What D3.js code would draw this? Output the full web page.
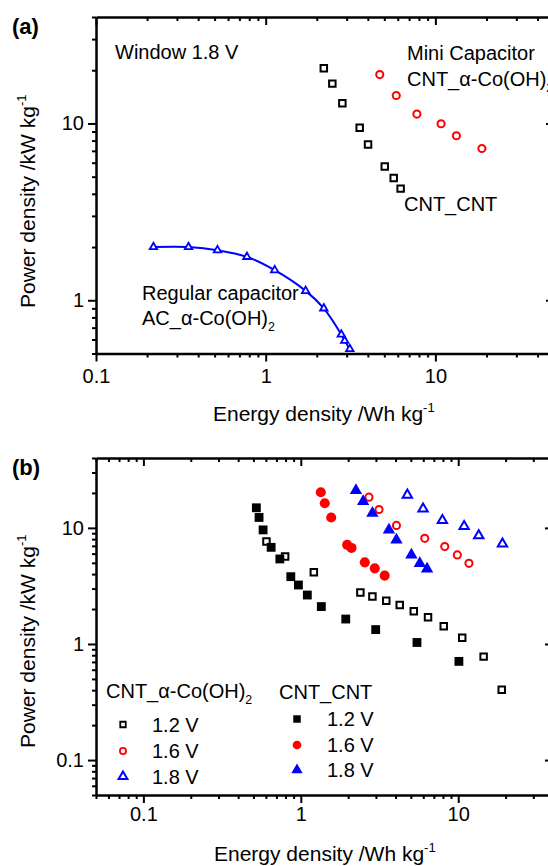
<!DOCTYPE html>
<html>
<head>
<meta charset="utf-8">
<script src="https://cdn.jsdelivr.net/npm/d3@7"></script>
<style>
  body { margin: 0; background: #fff; }
  svg { display: block; font-family: "Liberation Sans", Arial, sans-serif; }
</style>
</head>
<body>
<script>
// ---- panel (a): window 1.8 V, [energy Wh/kg, power kW/kg]
var cntCntA = [[2.20, 20.5], [2.47, 16.8], [2.83, 13.0], [3.58, 9.46], [4.01, 7.61], [5.03, 5.71], [5.68, 4.91], [6.24, 4.28]];
var cntCoA = [[4.70, 18.9], [5.88, 14.4], [7.78, 11.3], [10.8, 9.96], [13.3, 8.52], [18.8, 7.22]];
var acCoA = [[0.218, 2.0], [0.351, 2.0], [0.520, 1.92], [0.775, 1.76], [1.13, 1.48], [1.72, 1.13], [2.20, 0.90], [2.79, 0.64], [2.92, 0.59], [3.13, 0.53]];

// ---- panel (b): CNT_alpha-Co(OH)2 (open) and CNT_CNT (filled) at three voltages
var coB12 = [[0.605, 7.62], [0.795, 5.66], [1.21, 4.14], [2.39, 2.77], [2.85, 2.57], [3.49, 2.36], [4.25, 2.17], [5.22, 1.91], [6.43, 1.70], [8.09, 1.42], [10.6, 1.13], [14.5, 0.778], [18.9, 0.404]];
var coB16 = [[2.71, 18.4], [3.14, 14.4], [4.05, 10.5], [6.13, 8.13], [8.21, 6.90], [9.87, 5.85], [11.7, 4.95]];
var coB18 = [[4.75, 19.2], [5.98, 14.6], [7.93, 11.6], [10.9, 10.3], [13.5, 8.58], [19.1, 7.28]];
var cntB12 = [[0.522, 14.9], [0.543, 12.3], [0.576, 9.61], [0.648, 6.80], [0.736, 5.40], [0.864, 3.80], [0.966, 3.22], [1.10, 2.64], [1.35, 2.10], [1.93, 1.64], [2.99, 1.33], [5.47, 1.03], [10.1, 0.708]];
var cntB16 = [[1.34, 20.3], [1.42, 16.3], [1.56, 12.3], [1.97, 7.14], [2.10, 6.72], [2.55, 5.05], [2.95, 4.48], [3.41, 3.88]];
var cntB18 = [[2.24, 21.0], [2.49, 16.9], [2.85, 13.4], [3.63, 9.61], [4.05, 7.88], [5.04, 5.85], [5.70, 4.95], [6.34, 4.43]];

var voltLabels = ['1.2 V', '1.6 V', '1.8 V'];
var xMajorA = [0.1, 1, 10];
var yMajorA = [1, 10];
var xMajorB = [0.1, 1, 10];
var yMajorB = [0.1, 1, 10];

var w = 548, h = 866;
var fs = 20;

var svg = d3.select('body').append('svg')
  .attr('width', w)
  .attr('height', h);

function isMajor(v) {
  var l = Math.log10(v);
  return Math.abs(l - Math.round(l)) < 1e-9;
}

function styleAxis(sel, width) {
  sel.select('.domain').attr('stroke-width', width || 2.5);
  sel.selectAll('.tick line').attr('stroke-width', 2);
  sel.selectAll('.tick text').attr('font-size', fs).attr('fill', '#000');
  sel.attr('font-family', null).attr('font-size', null);
}

function drawAxes(x, y, xMajor, yMajor, xPad) {
  var x0 = x.range()[0], x1 = x.range()[1];
  var y0 = y.range()[0], y1 = y.range()[1];
  var xMinor = x.ticks().filter(d => !isMajor(d));
  var yMinor = y.ticks().filter(d => !isMajor(d));

  // bottom
  svg.append('g')
    .attr('transform', 'translate(0,' + y0 + ')')
    .call(d3.axisBottom(x).tickValues(xMajor).tickSize(8).tickSizeOuter(0).tickPadding(xPad).tickFormat(d => String(d)))
    .call(styleAxis);
  svg.append('g')
    .attr('transform', 'translate(0,' + y0 + ')')
    .call(d3.axisBottom(x).tickValues(xMinor).tickSize(4).tickFormat(''))
    .call(g => g.select('.domain').remove())
    .call(styleAxis);
  // top (inward)
  svg.append('g')
    .attr('transform', 'translate(0,' + y1 + ')')
    .call(d3.axisTop(x).tickValues(xMajor).tickSize(-8).tickSizeOuter(0).tickFormat(''))
    .call(styleAxis);
  svg.append('g')
    .attr('transform', 'translate(0,' + y1 + ')')
    .call(d3.axisTop(x).tickValues(xMinor).tickSize(-4).tickFormat(''))
    .call(g => g.select('.domain').remove())
    .call(styleAxis);
  // left
  svg.append('g')
    .attr('transform', 'translate(' + x0 + ',0)')
    .call(d3.axisLeft(y).tickValues(yMajor).tickSize(8).tickSizeOuter(0).tickPadding(4).tickFormat(d => String(d)))
    .call(styleAxis);
  svg.append('g')
    .attr('transform', 'translate(' + x0 + ',0)')
    .call(d3.axisLeft(y).tickValues(yMinor).tickSize(4).tickFormat(''))
    .call(g => g.select('.domain').remove())
    .call(styleAxis);
  // right (inward)
  svg.append('g')
    .attr('transform', 'translate(' + x1 + ',0)')
    .call(d3.axisRight(y).tickValues(yMajor).tickSize(-8).tickSizeOuter(0).tickFormat(''))
    .call(styleAxis);
  svg.append('g')
    .attr('transform', 'translate(' + x1 + ',0)')
    .call(d3.axisRight(y).tickValues(yMinor).tickSize(-4).tickFormat(''))
    .call(g => g.select('.domain').remove())
    .call(styleAxis);
}

// text with _sub / ^sup pieces: segs = [[text, 'sub'|'sup'|null], ...]
function richText(parent, segs, size) {
  var t = parent.append('text').attr('font-size', size).attr('fill', '#000');
  var shift = 0;
  segs.forEach(function (s) {
    var target = s[1] === 'sub' ? size * 0.3 : s[1] === 'sup' ? -size * 0.42 : 0;
    var sp = t.append('tspan').text(s[0]).attr('dy', target - shift);
    if (s[1]) sp.attr('font-size', size * 0.62);
    shift = target;
  });
  return t;
}

function placeText(segs, x, y, size) {
  return richText(svg, segs, size || fs).attr('x', x).attr('y', y);
}

function yTitle(x, y) {
  var g = svg.append('g').attr('transform', 'translate(' + x + ',' + y + ') rotate(-90)');
  richText(g, [['Power density /kW kg'], ['-1', 'sup']], 21);
}

function xTitle(x, y) {
  placeText([['Energy density /Wh kg'], ['-1', 'sup']], x, y, 21);
}

function marks(x, y, data, type, size, fill, stroke, sw) {
  svg.append('g').selectAll('path')
    .data(data)
    .enter()
    .append('path')
    .attr('transform', d => 'translate(' + x(d[0]) + ',' + y(d[1]) + ')')
    .attr('d', d3.symbol().type(type).size(size))
    .attr('fill', fill)
    .attr('stroke', stroke)
    .attr('stroke-width', sw);
}

// ================= panel (a)
var xA = d3.scaleLog().domain([0.1, 50]).range([96, 554]);
var yA = d3.scaleLog().domain([0.5, 40]).range([353.5, 17]);

drawAxes(xA, yA, xMajorA, yMajorA, 7);

svg.append('path')
  .datum(acCoA)
  .attr('d', d3.line().x(d => xA(d[0])).y(d => yA(d[1])).curve(d3.curveCatmullRom))
  .attr('fill', 'none')
  .attr('stroke', '#0000ff')
  .attr('stroke-width', 2);

marks(xA, yA, acCoA, d3.symbolTriangle, 24, '#fff', '#0000ff', 1.8);
marks(xA, yA, cntCntA, d3.symbolSquare, 42, '#fff', '#000', 2);
marks(xA, yA, cntCoA, d3.symbolCircle, 40, '#fff', '#ff0000', 2);

placeText([['Window 1.8 V']], 115, 58.5);
placeText([['Mini Capacitor']], 407, 59.5);
placeText([['CNT_α-Co(OH)'], ['2', 'sub']], 407, 85.5);
placeText([['CNT_CNT']], 404, 211);
placeText([['Regular capacitor']], 142, 299.5);
placeText([['AC_α-Co(OH)'], ['2', 'sub']], 142, 324.5);

svg.append('text').attr('x', 12).attr('y', 34).attr('font-size', 22).attr('font-weight', 'bold').text('(a)');
yTitle(35, 308);
xTitle(213, 421);

// ================= panel (b)
var xB = d3.scaleLog().domain([0.05, 40]).range([96, 553]);
var yB = d3.scaleLog().domain([0.05, 40]).range([795, 458]);

drawAxes(xB, yB, xMajorB, yMajorB, 4);

marks(xB, yB, coB12, d3.symbolSquare, 42, '#fff', '#000', 2);
marks(xB, yB, cntB12, d3.symbolSquare, 78, '#000', 'none', 0);
marks(xB, yB, cntB16, d3.symbolCircle, 80, '#ff0000', 'none', 0);
marks(xB, yB, coB16, d3.symbolCircle, 40, '#fff', '#ff0000', 2);
marks(xB, yB, cntB18, d3.symbolTriangle, 66, '#0000ff', 'none', 0);
marks(xB, yB, coB18, d3.symbolTriangle, 38, '#fff', '#0000ff', 2);

svg.append('text').attr('x', 12).attr('y', 475).attr('font-size', 22).attr('font-weight', 'bold').text('(b)');
yTitle(35, 748);
xTitle(214, 861);

// legends
var openStyles = [
  [d3.symbolSquare, 30, '#fff', '#000', 1.8],
  [d3.symbolCircle, 30, '#fff', '#ff0000', 1.8],
  [d3.symbolTriangle, 34, '#fff', '#0000ff', 2]
];
var fillStyles = [
  [d3.symbolSquare, 56, '#000', 'none', 0],
  [d3.symbolCircle, 60, '#ff0000', 'none', 0],
  [d3.symbolTriangle, 56, '#0000ff', 'none', 0]
];

function legend(title, titleX, titleY, symX, textX, rowY, styles) {
  placeText(title, titleX, titleY);
  styles.forEach(function (s, i) {
    svg.append('path')
      .attr('transform', 'translate(' + symX + ',' + rowY[i] + ')')
      .attr('d', d3.symbol().type(s[0]).size(s[1]))
      .attr('fill', s[2])
      .attr('stroke', s[3])
      .attr('stroke-width', s[4]);
    svg.append('text')
      .attr('x', textX)
      .attr('y', rowY[i] + 7)
      .attr('font-size', fs)
      .text(voltLabels[i]);
  });
}

legend([['CNT_α-Co(OH)'], ['2', 'sub']], 106, 698, 123, 152, [724.5, 751, 776.5], openStyles);
legend([['CNT_CNT']], 279, 699, 297, 327, [719, 745, 770], fillStyles);
</script>
</body>
</html>
